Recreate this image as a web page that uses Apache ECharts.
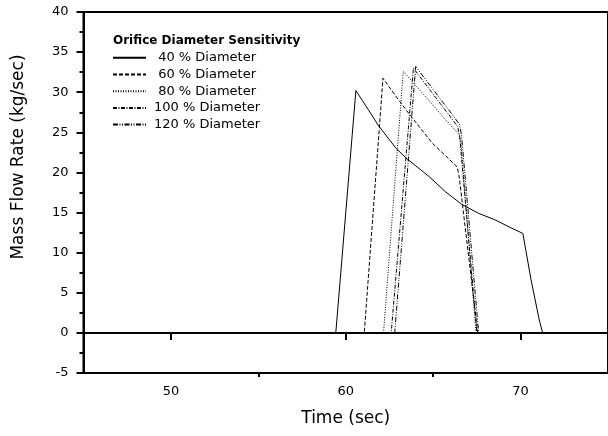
<!DOCTYPE html>
<html>
<head>
<meta charset="utf-8">
<script src="https://cdn.jsdelivr.net/npm/echarts@6/dist/echarts.min.js"></script>
<style>
  html, body { margin: 0; padding: 0; background: #fff; }
  #chart { width: 608px; height: 436px; }
</style>
</head>
<body>
<div id="chart"></div>
<script>
// 시리즈 이름
var seriesNames = [' 40 % Diameter', ' 60 % Diameter', ' 80 % Diameter', '100 % Diameter', '120 % Diameter'];

// [time, mass flow rate]
var d40 = [[45, 0], [59.43, 0], [60.58, 30.2], [61.3, 27.8], [61.85, 25.9], [62.88, 23.0], [63.45, 21.8],
  [64.76, 19.5], [65.7, 17.6], [66.65, 16.0], [67.6, 14.9], [68.53, 14.1], [69.45, 13.1], [70.13, 12.4],
  [70.6, 6.6], [71.07, 1.6], [71.26, 0], [75, 0]];
var d60 = [[45, 0], [61.06, 0], [62.13, 31.75], [62.8, 29.7], [63.45, 27.8], [64.2, 25.7], [64.95, 23.65],
  [65.7, 22.1], [66.37, 20.7], [66.48, 19.6], [67.55, 0], [75, 0]];
var d80 = [[45, 0], [62.16, 0], [63.29, 32.6], [64.1, 30.6], [64.9, 28.6], [65.7, 26.6], [66.5, 24.7],
  [66.6, 23.4], [67.45, 0], [75, 0]];
var d100 = [[45, 0], [62.6, 0], [63.87, 33.0], [64.6, 30.9], [65.4, 28.6], [66.0, 26.9], [66.4, 25.7],
  [66.52, 24.4], [67.5, 0], [75, 0]];
var d120 = [[45, 0], [62.8, 0], [64.0, 33.2], [64.7, 31.2], [65.5, 28.9], [66.1, 27.2], [66.5, 26.0],
  [66.62, 24.7], [67.6, 0], [75, 0]];

// 선 스타일
var dashTypes = ['solid', [4, 2], [1, 1.5], [4, 1.5, 1, 1.5], [5, 1.5, 1, 1.5, 1, 1.5]];
var allData = [d40, d60, d80, d100, d120];

var xLabels = [50, 60, 70];
var xMinor = [55, 65];

var myChart = echarts.init(document.getElementById('chart'));

var series = [];
for (var i = 0; i < allData.length; i++) {
  series.push({
    name: seriesNames[i],
    type: 'line',
    symbol: 'circle',
    showSymbol: false,
    data: allData[i],
    lineStyle: { color: '#000', width: 1, type: dashTypes[i] },
    itemStyle: { color: '#000' }
  });
}

var option = {
  animation: false,
  textStyle: { fontFamily: 'DejaVu Sans', color: '#000' },
  title: {
    text: 'Orifice Diameter Sensitivity',
    left: 113,
    top: 35,
    padding: 0,
    textStyle: { fontFamily: 'DejaVu Sans', fontSize: 12, fontWeight: 'bold', color: '#000' }
  },
  legend: {
    data: seriesNames,
    orient: 'vertical',
    left: 112,
    top: 51.3,
    padding: 0,
    itemWidth: 33,
    itemHeight: 14,
    itemGap: 3.7,
    selectedMode: false,
    // 범례 아이콘의 점은 숨김
    itemStyle: { color: 'rgba(0,0,0,0)', borderColor: 'rgba(0,0,0,0)', borderWidth: 0 },
    textStyle: { fontFamily: 'DejaVu Sans', fontSize: 13, color: '#000', padding: [0, 0, 0, 3] }
  },
  grid: {
    left: 83.5,
    right: -6.5,
    top: 12,
    bottom: 63,
    show: true,
    borderColor: '#000',
    borderWidth: 2
  },
  xAxis: [
    {
      type: 'value',
      min: 45,
      max: 75,
      position: 'bottom',
      name: 'Time (sec)',
      nameLocation: 'middle',
      nameGap: 37,
      nameTextStyle: { fontFamily: 'DejaVu Sans', fontSize: 17, color: '#000' },
      axisLine: { show: true, lineStyle: { color: '#000', width: 2 } },
      axisTick: { show: true, customValues: xLabels, length: 7, lineStyle: { color: '#000', width: 2 } },
      axisLabel: { customValues: xLabels, margin: 12, fontSize: 13, color: '#000', fontFamily: 'DejaVu Sans' },
      splitLine: { show: false }
    },
    {
      // 짧은 보조 눈금
      type: 'value',
      min: 45,
      max: 75,
      position: 'bottom',
      axisLine: { show: false },
      axisTick: { show: true, customValues: xMinor, length: 4, lineStyle: { color: '#000', width: 2 } },
      axisLabel: { show: false },
      splitLine: { show: false }
    }
  ],
  yAxis: {
    type: 'value',
    min: -5,
    max: 40,
    interval: 5,
    axisLine: { show: true, lineStyle: { color: '#000', width: 2 } },
    axisTick: { show: true, length: 7, lineStyle: { color: '#000', width: 2 } },
    minorTick: { show: true, splitNumber: 2, length: 4, lineStyle: { color: '#000', width: 2 } },
    axisLabel: { margin: 15, fontSize: 13, color: '#000', fontFamily: 'DejaVu Sans' },
    splitLine: { show: false }
  },
  graphic: [
    {
      type: 'text',
      x: 19,
      y: 157,
      rotation: Math.PI / 2,
      style: {
        text: 'Mass Flow Rate (kg/sec)',
        fontFamily: 'DejaVu Sans',
        fontSize: 17,
        fill: '#000',
        align: 'center',
        verticalAlign: 'middle'
      }
    }
  ],
  series: series
};

myChart.setOption(option);
</script>
</body>
</html>
